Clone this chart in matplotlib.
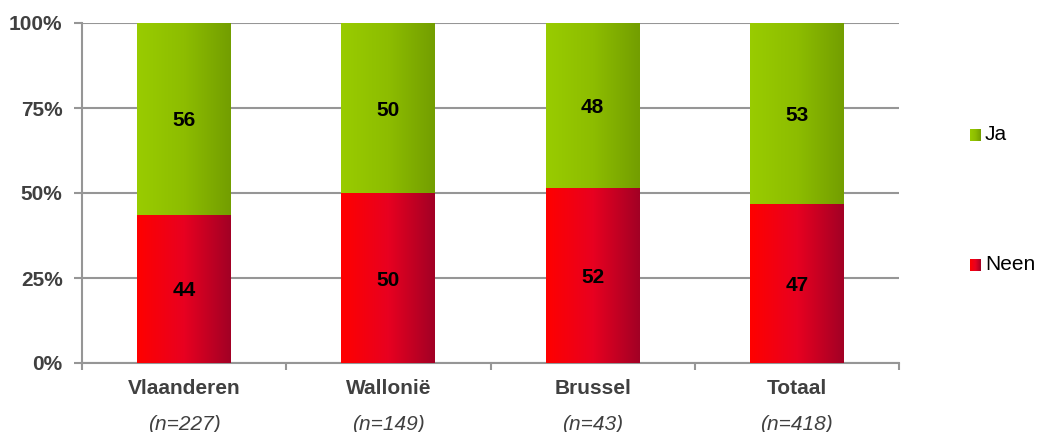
import numpy as np
import matplotlib
matplotlib.use("Agg")
import matplotlib.pyplot as plt
from matplotlib.colors import LinearSegmentedColormap

plt.rcParams['font.family'] = ['Liberation Sans', 'DejaVu Sans']

# Data
regions = ["Vlaanderen", "Wallonië", "Brussel", "Totaal"]
sample_sizes = ["(n=227)", "(n=149)", "(n=43)", "(n=418)"]
neen = [43.6, 50.0, 51.5, 46.8]
ja = [56.4, 50.0, 48.5, 53.2]
neen_labels = ["44", "50", "52", "47"]
ja_labels = ["56", "50", "48", "53"]

W, H = 1038, 432
fig = plt.figure(figsize=(W / 100, H / 100), dpi=100)
ax = fig.add_axes([82 / W, (H - 363) / H, (899 - 82) / W, (363 - 23) / H])

red_cmap = LinearSegmentedColormap.from_list("red", ["#ff0000", "#e80020", "#a20025"])
green_cmap = LinearSegmentedColormap.from_list("green", ["#99cc00", "#8dbd00", "#739e00"])
grad = np.linspace(0, 1, 256).reshape(1, -1)

bar_w = 0.46
x = np.arange(len(regions)) + 0.5

for i in range(len(regions)):
    x0, x1 = x[i] - bar_w / 2, x[i] + bar_w / 2
    ax.imshow(grad, cmap=red_cmap, extent=[x0, x1, 0, neen[i]], aspect='auto',
              interpolation='bicubic', zorder=3)
    ax.imshow(grad, cmap=green_cmap, extent=[x0, x1, neen[i], neen[i] + ja[i]],
              aspect='auto', interpolation='bicubic', zorder=3)
    ax.text(x[i], neen[i] / 2, neen_labels[i], ha='center', va='center_baseline',
            fontsize=15, fontweight='bold', color='black', zorder=4)
    ax.text(x[i], neen[i] + ja[i] / 2, ja_labels[i], ha='center', va='center_baseline',
            fontsize=15, fontweight='bold', color='black', zorder=4)

ax.set_xlim(0, len(regions))
ax.set_ylim(0, 100)

grid_col = '#969696'
ax.set_yticks([0, 25, 50, 75, 100])
ax.set_yticklabels(["0%", "25%", "50%", "75%", "100%"], fontsize=15,
                   fontweight='bold', color='#404040')
ax.tick_params(axis='y', direction='out', length=6, width=1.5, color=grid_col, pad=8)
ax.set_xticks(np.arange(len(regions) + 1))
ax.set_xticklabels([])
ax.tick_params(axis='x', direction='out', length=5, width=1.5, color=grid_col)

ax.yaxis.grid(True, color=grid_col, linewidth=1.5, zorder=1)
ax.set_axisbelow(True)
for side in ['top', 'right']:
    ax.spines[side].set_visible(False)
for side in ['left', 'bottom']:
    ax.spines[side].set_color(grid_col)
    ax.spines[side].set_linewidth(1.5)

# category labels
tr = ax.get_xaxis_transform()
for i in range(len(regions)):
    ax.text(x[i], -26 / 340, regions[i], transform=tr, ha='center', va='center',
            fontsize=15, fontweight='bold', color='#404040', clip_on=False)
    ax.text(x[i], -61 / 340, sample_sizes[i], transform=tr, ha='center', va='center',
            fontsize=15, style='italic', color='#404040', clip_on=False)

# legend with gradient swatches
for label, cmap, cy in [("Ja", green_cmap, 135), ("Neen", red_cmap, 265)]:
    sw = fig.add_axes([970 / W, (H - cy - 6) / H, 11 / W, 12 / H])
    sw.imshow(grad, cmap=cmap, aspect='auto')
    sw.axis('off')
    fig.text(985 / W, (H - cy) / H, label, ha='left', va='center',
             fontsize=15, color='black')

fig.savefig("out.png", dpi=100)
